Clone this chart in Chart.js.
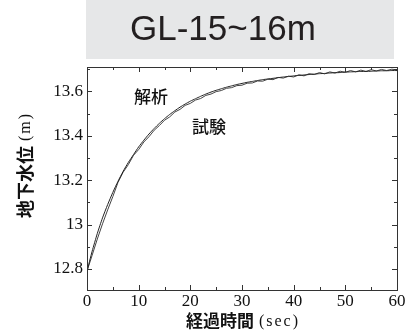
<!DOCTYPE html>
<html>
<head>
<meta charset="utf-8">
<script src="https://cdn.jsdelivr.net/npm/chart.js@4/dist/chart.umd.min.js"></script>
<style>
  html, body { margin: 0; padding: 0; background: #fff; overflow: hidden; }
  canvas { display: block; }
</style>
</head>
<body>
<canvas id="c" width="407" height="333"></canvas>
<script>
// Elapsed time (s) and groundwater level (m), GL-15~16m section
const timeSec = [0,1,2,3,4,5,6,7,8,9,10,11,12,13,14,15,16,17,18,19,20,21,22,23,24,25,26,27,28,29,30,
  31,32,33,34,35,36,37,38,39,40,41,42,43,44,45,46,47,48,49,50,51,52,53,54,55,56,57,58,59,60];

// 解析 (analysis)
const analysisLevel = [12.790,12.880,12.960,13.030,13.090,13.145,13.195,13.240,13.280,13.315,13.350,
  13.380,13.408,13.433,13.456,13.477,13.496,13.513,13.529,13.543,13.556,
  13.567,13.578,13.588,13.597,13.605,13.612,13.619,13.625,13.631,13.636,
  13.641,13.645,13.649,13.653,13.656,13.659,13.662,13.665,13.667,13.670,
  13.672,13.674,13.676,13.678,13.680,13.681,13.683,13.684,13.685,13.687,
  13.688,13.689,13.690,13.690,13.691,13.692,13.693,13.693,13.694,13.694];

// 試験 (measured)
const testLevel = [12.790,12.862,12.935,13.003,13.066,13.126,13.190,13.236,13.270,13.312,13.338,
  13.372,13.396,13.425,13.446,13.470,13.485,13.507,13.519,13.537,13.546,
  13.561,13.568,13.582,13.588,13.599,13.604,13.614,13.617,13.626,13.628,
  13.637,13.638,13.647,13.646,13.655,13.653,13.663,13.660,13.669,13.665,
  13.675,13.670,13.680,13.676,13.685,13.679,13.688,13.683,13.691,13.686,
  13.694,13.688,13.696,13.690,13.698,13.692,13.699,13.694,13.700,13.697];

const xMajorTicks = [0,10,20,30,40,50,60];
const xMinorTicks = [5,15,25,35,45,55];
const yMajorTicks = [12.8,13,13.2,13.4,13.6];
const yMinorTicks = [12.9,13.1,13.3,13.5,13.7];

const chartTitle = 'GL-15~16m';
const xTitleJa = '経過時間', xTitleUnit = '(sec)';
const yTitleJa = '地下水位', yTitleUnit = '(m)';
const seriesNames = ['解析', '試験'];

const CJK = '"Noto Sans CJK JP", sans-serif';
const SERIF = '"Liberation Serif", "DejaVu Serif", serif';

function toPoints(xs, ys) { return xs.map((x, i) => ({ x: x, y: ys[i] })); }

// Gray header band with the section name
const headerPlugin = {
  id: 'header',
  beforeDraw(chart) {
    const ctx = chart.ctx;
    ctx.save();
    ctx.fillStyle = '#e6e7e8';
    ctx.fillRect(86, 0, 308, 59);
    ctx.fillStyle = '#231f20';
    ctx.font = '35px "Liberation Sans", Arial, sans-serif';
    ctx.textAlign = 'left';
    ctx.textBaseline = 'alphabetic';
    ctx.fillText(chartTitle, 130, 40);
    ctx.restore();
  }
};

// Frame, inward ticks on all four sides, axis titles and curve labels
const framePlugin = {
  id: 'frame',
  afterDraw(chart) {
    const ctx = chart.ctx, a = chart.chartArea;
    const xs = chart.scales.x, ys = chart.scales.y;
    ctx.save();
    ctx.strokeStyle = '#333';
    ctx.lineWidth = 1;
    ctx.strokeRect(Math.round(a.left) + 0.5, Math.round(a.top) + 0.5,
      Math.round(a.right - a.left), Math.round(a.bottom - a.top));
    ctx.beginPath();
    const xt = (v, len) => {
      const p = Math.round(xs.getPixelForValue(v)) + 0.5;
      ctx.moveTo(p, a.bottom); ctx.lineTo(p, a.bottom - len);
      ctx.moveTo(p, a.top); ctx.lineTo(p, a.top + len);
    };
    const yt = (v, len) => {
      const p = Math.round(ys.getPixelForValue(v)) + 0.5;
      ctx.moveTo(a.left, p); ctx.lineTo(a.left + len, p);
      ctx.moveTo(a.right, p); ctx.lineTo(a.right - len, p);
    };
    xMajorTicks.forEach(v => xt(v, 5));
    xMinorTicks.forEach(v => xt(v, 3));
    yMajorTicks.forEach(v => yt(v, 5));
    yMinorTicks.forEach(v => yt(v, 3));
    ctx.stroke();

    ctx.fillStyle = '#111';
    ctx.textBaseline = 'middle';
    // x title
    drawMixed(ctx, xTitleJa, xTitleUnit, 243, 321, 17, 16);
    // y title, rotated
    ctx.save();
    ctx.translate(25, 165);
    ctx.rotate(-Math.PI / 2);
    drawMixed(ctx, yTitleJa, yTitleUnit, 0, 0, 18, 16);
    ctx.restore();

    // series labels
    ctx.font = '500 17px ' + CJK;
    ctx.textAlign = 'center';
    ctx.fillText(seriesNames[0], xs.getPixelForValue(12.4), ys.getPixelForValue(13.579));
    ctx.fillText(seriesNames[1], xs.getPixelForValue(23.6), ys.getPixelForValue(13.443));
    ctx.restore();
  }
};

function drawMixed(ctx, ja, unit, cx, cy, jaSize, unitSize) {
  ctx.font = 'bold ' + jaSize + 'px ' + CJK;
  const w1 = ctx.measureText(ja).width;
  ctx.font = unitSize + 'px ' + SERIF;
  if ('letterSpacing' in ctx) ctx.letterSpacing = '2px';
  const w2 = ctx.measureText(unit).width;
  const gap = 5;
  const x0 = cx - (w1 + gap + w2) / 2;
  ctx.textAlign = 'left';
  ctx.fillText(unit, x0 + w1 + gap, cy + 1);
  if ('letterSpacing' in ctx) ctx.letterSpacing = '0px';
  ctx.font = 'bold ' + jaSize + 'px ' + CJK;
  ctx.fillText(ja, x0, cy);
}

new Chart(document.getElementById('c'), {
  type: 'line',
  data: {
    datasets: [
      { label: seriesNames[0], data: toPoints(timeSec, analysisLevel),
        borderColor: '#222', borderWidth: 1, pointRadius: 0, tension: 0.2, fill: false },
      { label: seriesNames[1], data: toPoints(timeSec, testLevel),
        borderColor: '#444', borderWidth: 1, pointRadius: 0, tension: 0, fill: false }
    ]
  },
  options: {
    responsive: false,
    animation: false,
    devicePixelRatio: 1,
    layout: { padding: { top: 67, right: 10, left: 0, bottom: 0 } },
    plugins: { legend: { display: false }, tooltip: { enabled: false }, title: { display: false } },
    scales: {
      x: {
        type: 'linear', min: 0, max: 60,
        afterBuildTicks: s => { s.ticks = xMajorTicks.map(v => ({ value: v })); },
        afterFit: s => { s.height = 43; },
        grid: { drawOnChartArea: false, drawTicks: false },
        border: { display: false },
        ticks: { padding: 1, color: '#111', font: { family: SERIF, size: 17 }, maxRotation: 0,
                 callback: v => String(v) }
      },
      y: {
        type: 'linear', min: 12.705, max: 13.71,
        afterBuildTicks: s => { s.ticks = yMajorTicks.map(v => ({ value: v })); },
        afterFit: s => { s.width = 87; },
        grid: { drawOnChartArea: false, drawTicks: false },
        border: { display: false },
        ticks: { padding: 4, color: '#111', font: { family: SERIF, size: 17 },
                 callback: v => String(Math.round(v * 10) / 10) }
      }
    }
  },
  plugins: [headerPlugin, framePlugin]
});
</script>
</body>
</html>
